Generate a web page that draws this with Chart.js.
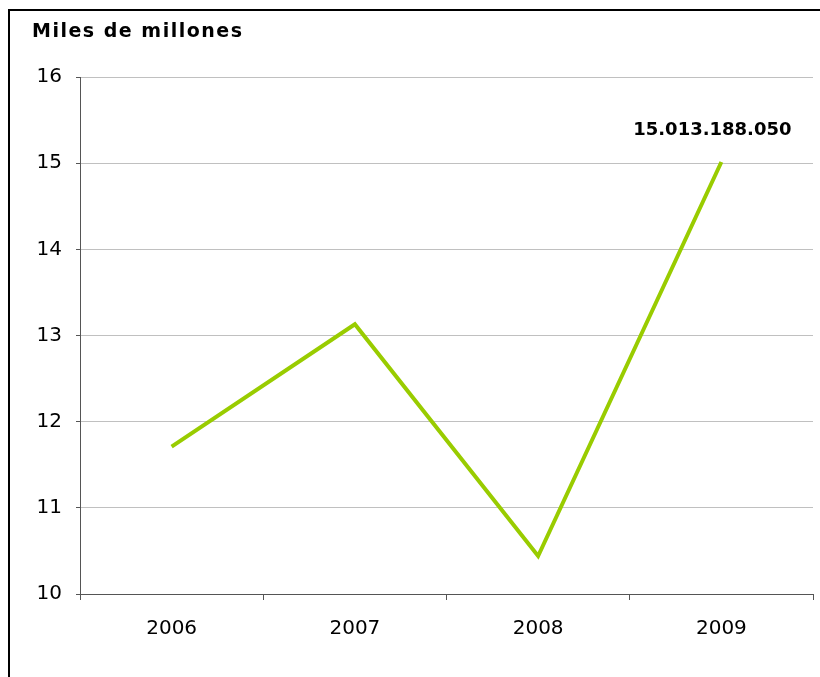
<!DOCTYPE html>
<html>
<head>
<meta charset="utf-8">
<script src="https://cdn.jsdelivr.net/npm/chart.js@4.4.1/dist/chart.umd.min.js"></script>
<style>
  html, body { margin: 0; padding: 0; background: #fff; overflow: hidden; }
  #wrap { position: relative; width: 820px; height: 677px; overflow: hidden; }
  #marco { position: absolute; left: 8px; top: 9px; width: 840px; height: 700px; border: 2px solid #000; box-sizing: border-box; pointer-events: none; }
</style>
</head>
<body>
<div id="wrap">
  <canvas id="grafico" width="820" height="677"></canvas>
  <div id="marco"></div>
</div>
<script>
// datos
const anios = ['2006', '2007', '2008', '2009'];
const valores = [11.71, 13.13, 10.44, 15.013188050];
const etiquetaFinal = '15.013.188.050';
const tituloEje = 'Miles de millones';

const verde = '#99CC00';

// textos fijos: titulo del eje y la etiqueta del ultimo punto
const textos = {
  id: 'textos',
  afterDatasetsDraw(chart) {
    const ctx = chart.ctx;
    ctx.save();
    ctx.fillStyle = '#000';
    ctx.textBaseline = 'alphabetic';
    ctx.font = 'bold 19px "DejaVu Sans"';
    ctx.letterSpacing = '1.5px';
    ctx.textAlign = 'left';
    ctx.fillText(tituloEje, 32, 37);

    ctx.letterSpacing = '0px';
    ctx.font = 'bold 18px "DejaVu Sans"';
    ctx.textAlign = 'center';
    const meta = chart.getDatasetMeta(0);
    const p = meta.data[meta.data.length - 1];
    ctx.fillText(etiquetaFinal, p.x - 9, p.y - 27);
    ctx.restore();
  }
};

new Chart(document.getElementById('grafico'), {
  type: 'line',
  data: {
    labels: anios,
    datasets: [{
      data: valores,
      borderColor: verde,
      borderWidth: 4,
      pointRadius: 0,
      tension: 0,
      fill: false
    }]
  },
  options: {
    responsive: false,
    animation: false,
    layout: { padding: { left: 8, top: 77, right: 7, bottom: 0 } },
    plugins: {
      legend: { display: false },
      tooltip: { enabled: false }
    },
    scales: {
      x: {
        offset: true,
        grid: {
          offset: true,
          drawOnChartArea: false,
          color: '#555',
          tickLength: 6
        },
        border: { color: '#555', width: 1 },
        ticks: {
          color: '#000',
          padding: 17,
          font: { family: '"DejaVu Sans"', size: 20 }
        },
        afterFit(scale) { scale.height = 83; }
      },
      y: {
        min: 10,
        max: 16,
        ticks: {
          stepSize: 1,
          color: '#000',
          padding: 14,
          font: { family: '"DejaVu Sans"', size: 20 }
        },
        grid: {
          color: '#C0C0C0',
          tickColor: '#555',
          tickLength: 4
        },
        border: { color: '#555', width: 1 },
        afterFit(scale) { scale.width = 72; }
      }
    }
  },
  plugins: [textos]
});
</script>
</body>
</html>
